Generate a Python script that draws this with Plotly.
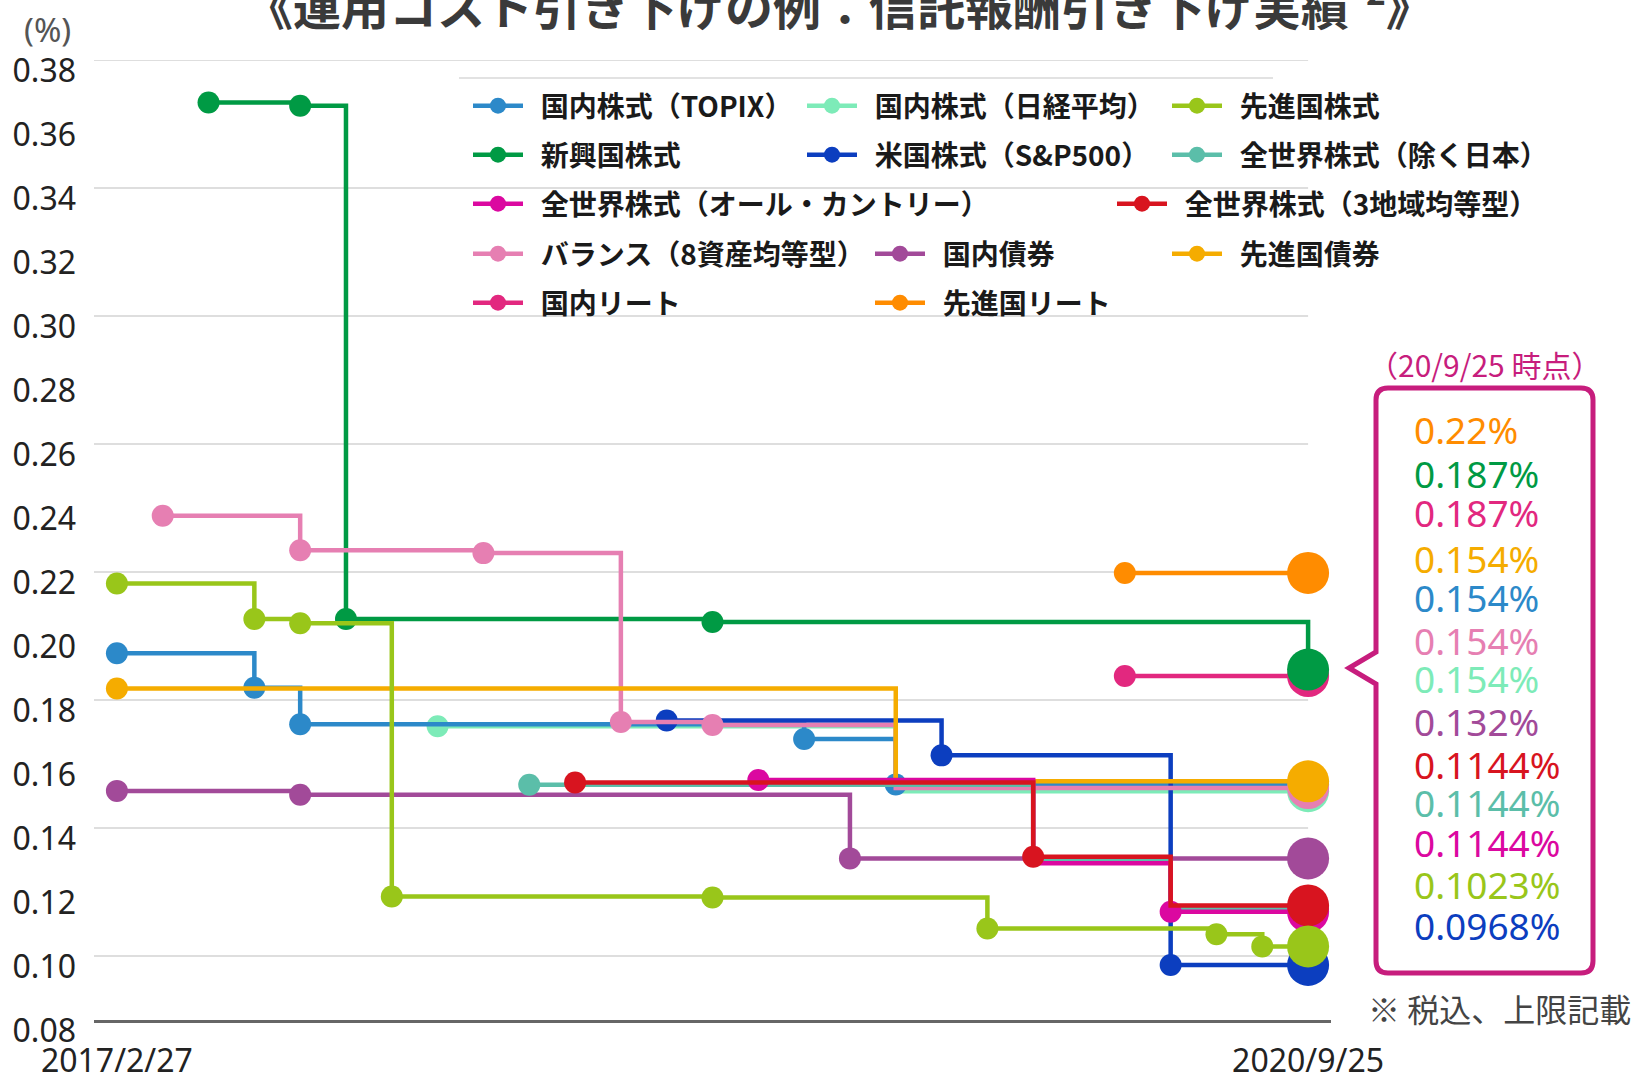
import plotly.graph_objects as go

# ------------------------------------------------------------------
# DATA  (x = index of the evenly spaced change-point axis, y = fee %)
# ------------------------------------------------------------------
x_tick_pos = [0, 26]
x_tick_text = ["2017/2/27", "2020/9/25"]
y_tick_vals = [0.08, 0.10, 0.12, 0.14, 0.16, 0.18, 0.20, 0.22, 0.24, 0.26, 0.28, 0.30, 0.32, 0.34, 0.36, 0.38]
y_tick_text = ["0.08", "0.10", "0.12", "0.14", "0.16", "0.18", "0.20", "0.22", "0.24", "0.26", "0.28", "0.30", "0.32", "0.34", "0.36", "0.38"]
grid_vals = [0.10, 0.14, 0.18, 0.22, 0.26, 0.30, 0.34, 0.38]

topix_x = [0, 3, 4, 15, 17, 26]
topix_y = [0.1946, 0.1838, 0.1724, 0.1678, 0.1536, 0.1536]
nikkei_x = [7, 17, 26]
nikkei_y = [0.1718, 0.1515, 0.1515]
dev_eq_x = [0, 3, 4, 6, 13, 19, 24, 25, 26]
dev_eq_y = [0.2164, 0.2053, 0.2040, 0.1186, 0.1183, 0.1086, 0.1068, 0.1030, 0.1030]
em_eq_x = [2, 4, 5, 13, 26]
em_eq_y = [0.3667, 0.3657, 0.2053, 0.2044, 0.1895]
sp500_x = [12, 18, 23, 26]
sp500_y = [0.1736, 0.1627, 0.0972, 0.0972]
acwx_x = [9, 20, 23, 26]
acwx_y = [0.1535, 0.1297, 0.1147, 0.1147]
acwi_x = [14, 20, 23, 26]
acwi_y = [0.1550, 0.1290, 0.1138, 0.1138]
three_x = [10, 20, 23, 26]
three_y = [0.1542, 0.1310, 0.1158, 0.1158]
bal_x = [1, 4, 8, 11, 13, 17, 26]
bal_y = [0.2376, 0.2268, 0.2259, 0.1731, 0.1722, 0.1525, 0.1525]
jbond_x = [0, 4, 16, 26]
jbond_y = [0.1516, 0.1504, 0.1305, 0.1305]
dbond_x = [0, 17, 26]
dbond_y = [0.1836, 0.1546, 0.1546]
jreit_x = [22, 26]
jreit_y = [0.1875, 0.1875]
dreit_x = [22, 26]
dreit_y = [0.2197, 0.2197]

callout_text = ["0.22%", "0.187%", "0.187%", "0.154%", "0.154%", "0.154%", "0.154%",
                "0.132%", "0.1144%", "0.1144%", "0.1144%", "0.1023%", "0.0968%"]

# ------------------------------------------------------------------
# STYLE / LAYOUT
# ------------------------------------------------------------------
FIG_W, FIG_H = 1636, 1082
PL, PR, PT, PB = 94, 1331, 60, 1020   # plot area in page pixels


def fx(px):
    return (px - PL) / (PR - PL)


def fy(py):
    return (PB - py) / (PB - PT)


C = {
    "topix": "#2C89C9", "nikkei": "#7DEBB8", "dev_eq": "#99C61A", "em_eq": "#009A44",
    "sp500": "#0C3EBF", "acwx": "#5BBEA9", "acwi": "#DB08A0", "three": "#D8141F",
    "bal": "#E67FB2", "jbond": "#A24A99", "dbond": "#F5AC00", "jreit": "#E2287F",
    "dreit": "#FF8C00",
}
NB = "\u00a0\u00a0"
series = {
    "topix": ("国内株式（TOPIX）", topix_x, topix_y),
    "nikkei": ("国内株式（日経平均）", nikkei_x, nikkei_y),
    "dev_eq": ("先進国株式", dev_eq_x, dev_eq_y),
    "em_eq": ("新興国株式", em_eq_x, em_eq_y),
    "sp500": ("米国株式（S&P500）", sp500_x, sp500_y),
    "acwx": ("全世界株式（除く日本）", acwx_x, acwx_y),
    "acwi": ("全世界株式（オール・カントリー）", acwi_x, acwi_y),
    "three": ("全世界株式（3地域均等型）", three_x, three_y),
    "bal": ("バランス（8資産均等型）", bal_x, bal_y),
    "jbond": ("国内債券", jbond_x, jbond_y),
    "dbond": ("先進国債券", dbond_x, dbond_y),
    "jreit": ("国内リート", jreit_x, jreit_y),
    "dreit": ("先進国リート", dreit_x, dreit_y),
}
hidden = {"nikkei": [17], "bal": [17], "dbond": [17], "acwx": [20, 23],
          "acwi": [20], "three": [23]}
draw_order = ["jreit", "em_eq", "dreit", "jbond", "nikkei", "topix", "sp500",
              "bal", "dbond", "acwx", "acwi", "three", "dev_eq"]
# legend position: (marker centre x, row centre y) in page px
legend_pos = {
    "topix": (496, 106), "nikkei": (830, 106), "dev_eq": (1195, 106),
    "em_eq": (496, 155), "sp500": (830, 155), "acwx": (1195, 155),
    "acwi": (496, 204), "three": (1140, 204),
    "bal": (496, 254), "jbond": (898, 254), "dbond": (1195, 254),
    "jreit": (496, 303), "dreit": (898, 303),
}
callout_keys = ["dreit", "em_eq", "jreit", "dbond", "topix", "bal", "nikkei",
                "jbond", "three", "acwx", "acwi", "dev_eq", "sp500"]
callout_y = [430, 473, 512, 558, 597, 640, 678, 721, 764, 802, 842, 884, 925]

fig = go.Figure()
legend_layout = {}
for i, key in enumerate(draw_order):
    name, xs, ys = series[key]
    sizes = []
    for xv in xs:
        if xv in hidden.get(key, []):
            sizes.append(0)
        elif xv == 26:
            sizes.append(42)
        else:
            sizes.append(22)
    lname = "legend" if i == 0 else f"legend{i + 1}"
    fig.add_trace(go.Scatter(
        x=xs, y=ys, name=NB + name, mode="lines+markers",
        line=dict(color=C[key], width=4.5, shape="hv"),
        marker=dict(color=C[key], size=sizes, opacity=1, line=dict(width=0)),
        legend=lname, hoverinfo="skip",
    ))
    mx, my = legend_pos[key]
    legend_layout[lname] = dict(
        x=fx(mx - 28), y=fy(my), xanchor="left", yanchor="middle",
        bgcolor="rgba(0,0,0,0)", borderwidth=0, itemwidth=50,
        font=dict(family="Noto Sans CJK JP", size=28, color="#1a1a1a", weight="bold"),
    )

shapes = []
for g in grid_vals:
    shapes.append(dict(type="line", xref="x", yref="y", x0=-0.5, x1=26, y0=g, y1=g,
                       line=dict(color="#d3d3d3", width=1.5), layer="below"))
# white legend panel hiding the gridlines behind it
shapes.append(dict(type="rect", xref="paper", yref="paper", x0=fx(449), x1=fx(1600),
                   y0=fy(330), y1=fy(84), fillcolor="white", line=dict(width=0), layer="below"))
shapes.append(dict(type="line", xref="paper", yref="paper", x0=fx(459), x1=fx(1273),
                   y0=fy(78), y1=fy(78), line=dict(color="#e2e2e2", width=2), layer="below"))

# callout box with pointer
X0, X1, Y0, Y1, R = 1376, 1593, 388, 973, 12
pts = [("M", X0 + R, Y0), ("L", X1 - R, Y0), ("Q", X1, Y0, X1, Y0 + R), ("L", X1, Y1 - R),
       ("Q", X1, Y1, X1 - R, Y1), ("L", X0 + R, Y1), ("Q", X0, Y1, X0, Y1 - R),
       ("L", X0, 684), ("L", 1349, 668), ("L", X0, 652), ("L", X0, Y0 + R),
       ("Q", X0, Y0, X0 + R, Y0)]
path = ""
for p in pts:
    cmd = p[0]
    coords = p[1:]
    seg = []
    for j in range(0, len(coords), 2):
        seg.append(f"{fx(coords[j]):.5f},{fy(coords[j + 1]):.5f}")
    path += cmd + " ".join(seg) + " "
path += "Z"
shapes.append(dict(type="path", xref="paper", yref="paper", path=path,
                   line=dict(color="#C71D7D", width=5), fillcolor="rgba(0,0,0,0)", layer="above"))

annotations = []
for key, txt, yc in zip(callout_keys, callout_text, callout_y):
    annotations.append(dict(x=fx(1412), y=fy(yc), xref="paper", yref="paper", text=txt,
                            showarrow=False, xanchor="left", yanchor="middle",
                            font=dict(family="Noto Sans", size=37, color=C[key])))
annotations += [
    dict(x=fx(1485), y=fy(364), xref="paper", yref="paper", text="（20/9/25 時点）",
         showarrow=False, xanchor="center", yanchor="middle",
         font=dict(family="Noto Sans CJK JP", size=30, color="#C71D7D")),
    dict(x=fx(1366), y=fy(1008), xref="paper", yref="paper", text="※ 税込、上限記載",
         showarrow=False, xanchor="left", yanchor="middle",
         font=dict(family="Noto Sans CJK JP", size=32, color="#444444")),
    dict(x=fx(47), y=fy(29), xref="paper", yref="paper", text="(%)",
         showarrow=False, xanchor="center", yanchor="middle",
         font=dict(family="Noto Sans", size=33, color="#555555")),
    dict(x=fx(839), y=fy(2), xref="paper", yref="paper",
         text="《運用コスト引き下げの例：信託報酬引き下げ実績<sup>*2</sup>》",
         showarrow=False, xanchor="center", yanchor="middle",
         font=dict(family="Noto Sans CJK JP", size=48, color="#3a3a3a", weight="bold")),
]

fig.update_layout(
    width=FIG_W, height=FIG_H,
    margin=dict(l=PL, r=FIG_W - PR, t=PT, b=FIG_H - PB, pad=0),
    paper_bgcolor="white", plot_bgcolor="white",
    font=dict(family="Noto Sans, Noto Sans CJK JP", color="#222222"),
    showlegend=True,
    xaxis=dict(range=[-0.5, 26.5], tickmode="array", tickvals=x_tick_pos, ticktext=x_tick_text,
               showgrid=False, zeroline=False, showline=True, linecolor="#666666", linewidth=3,
               ticks="", ticklabelstandoff=11, tickfont=dict(size=32, color="#222222"),
               automargin=False, fixedrange=True),
    yaxis=dict(range=[0.08, 0.38], tickmode="array", tickvals=y_tick_vals, ticktext=y_tick_text,
               showgrid=False, zeroline=False, showline=False, ticks="",
               ticklabelshift=11, ticklabelstandoff=17,
               tickfont=dict(size=32, color="#222222"), automargin=False, fixedrange=True),
    shapes=shapes, annotations=annotations,
    **legend_layout,
)

fig.write_html("out.html", config={"displayModeBar": False},
               post_script="document.body.style.margin='0';document.body.style.overflow='hidden';")
